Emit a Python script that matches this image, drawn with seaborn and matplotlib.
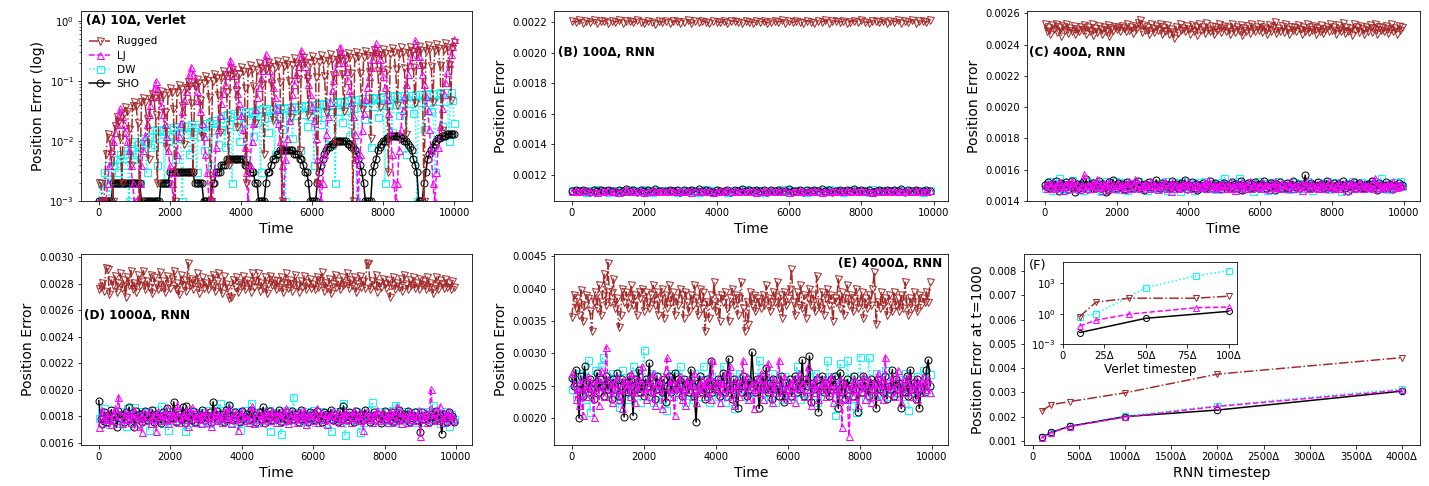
import numpy as np
import matplotlib
matplotlib.use("Agg")
import matplotlib.pyplot as plt
from matplotlib.ticker import FuncFormatter
import seaborn as sns

# ---------------- data ----------------
# (A) 10Δ Verlet, error in units of 1e-3, one value every 50 time units
a_rugged = [2, 2, 1, 1, 6, 13, 11, 6, 1, 18, 25, 21, 11, 2, 29, 36, 31, 16, 4, 38,
            45, 38, 20, 1, 44, 52, 44, 23, 5, 50, 60, 51, 27, 2, 55, 67, 57, 30, 8, 62,
            75, 64, 34, 1, 66, 85, 72, 38, 9, 76, 95, 81, 43, 3, 83, 107, 91, 48, 12, 92,
            120, 102, 54, 1, 101, 132, 112, 59, 14, 110, 145, 123, 65, 4, 120, 158, 134, 71, 17, 130,
            170, 145, 77, 2, 140, 182, 155, 82, 20, 150, 195, 166, 88, 6, 160, 205, 174, 92, 22, 168,
            215, 183, 97, 1, 176, 225, 191, 101, 25, 184, 235, 200, 106, 7, 192, 245, 208, 110, 27, 200,
            255, 217, 115, 2, 208, 265, 225, 119, 30, 216, 275, 234, 124, 9, 224, 285, 242, 128, 32, 232,
            295, 251, 133, 1, 240, 305, 259, 137, 34, 248, 315, 268, 142, 11, 257, 328, 279, 148, 37, 266,
            340, 289, 153, 3, 275, 350, 298, 158, 39, 284, 360, 306, 162, 13, 293, 372, 316, 167, 42, 302,
            385, 327, 173, 1, 312, 397, 337, 179, 44, 322, 410, 349, 185, 15, 333, 425, 361, 191, 48, 345,
            440]
a_lj = [1, 1, 1, 1, 1, 2, 4, 7, 10, 14, 19, 26, 35,
        26, 19, 14, 10, 7, 4, 2, 1, 1, 1, 2, 4, 7, 12, 19, 28, 40, 55, 75, 100,
        75, 55, 40, 28, 19, 12, 7, 4, 2, 1, 3, 6, 12, 20, 32, 48, 68, 94, 128, 170,
        128, 94, 68, 48, 32, 20, 12, 6, 3, 1, 1, 1, 3, 8, 16, 27, 43, 63, 90, 124, 169, 225,
        169, 124, 90, 63, 43, 27, 16, 8, 3, 1, 4, 10, 20, 34, 53, 78, 112, 154, 210, 280,
        210, 154, 112, 78, 53, 34, 20, 10, 4, 1, 5, 11, 22, 38, 61, 90, 128, 176, 240, 320,
        240, 176, 128, 90, 61, 38, 22, 11, 5, 2, 1, 2, 6, 13, 26, 44, 70, 104, 148, 204, 278, 370,
        278, 204, 148, 104, 70, 44, 26, 13, 5, 1, 6, 15, 29, 50, 80, 118, 168, 231, 315, 420,
        315, 231, 168, 118, 80, 50, 29, 15, 6, 2, 1, 2, 7, 16, 33, 56, 89, 132, 188, 259, 353, 470,
        353, 259, 188, 132, 89, 56, 33, 16, 7, 2, 1, 3, 8, 18, 35, 60, 95, 140, 200, 275, 375, 500]
a_dw = [1, 2, 1, 3, 2, 4, 1, 3, 4, 2, 5, 3, 6, 2, 6, 4, 7, 1, 7, 5,
        10, 6, 9, 2, 11, 7, 10, 3, 12, 8, 15, 9, 16, 4, 16, 11, 15, 2, 17, 10,
        17, 12, 16, 5, 18, 11, 17, 1, 18, 13, 18, 6, 19, 13, 17, 3, 19, 12, 18, 7,
        20, 14, 21, 4, 22, 15, 20, 9, 24, 16, 27, 8, 28, 19, 26, 2, 29, 18, 27, 10,
        30, 20, 31, 5, 32, 22, 30, 12, 33, 21, 34, 3, 35, 24, 33, 14, 35, 25, 34, 6,
        35, 26, 36, 16, 35, 1, 37, 25, 36, 11, 38, 27, 37, 7, 39, 28, 38, 18, 40, 26,
        40, 4, 41, 29, 42, 19, 41, 30, 43, 9, 44, 31, 45, 2, 46, 32, 45, 21, 47, 33,
        48, 12, 49, 35, 50, 1, 49, 36, 51, 23, 51, 37, 52, 8, 53, 38, 52, 25, 54, 39,
        55, 2, 56, 40, 55, 14, 57, 41, 56, 27, 57, 42, 58, 6, 59, 43, 58, 29, 60, 1,
        60, 44, 61, 16, 62, 45, 61, 31, 63, 3, 63, 46, 64, 18, 65, 47, 64, 10, 65, 48,
        20]
a_sho = [1, 1, 1, 1, 1, 1, 1, 1, 2, 2, 2, 2, 2, 2, 2, 2, 2, 2, 2, 2, 2, 2, 2, 2, 1, 1, 1, 1, 1, 1, 1,
         1, 1, 1, 1, 2, 2, 2, 2, 2, 3, 3, 3, 3, 3, 3, 3, 3, 3, 3, 3, 3, 3, 3, 2, 2, 2, 2, 2, 1, 1, 1,
         1, 1, 2, 2, 3, 3, 3, 4, 4, 4, 5, 5, 5, 5, 5, 5, 5, 5, 5, 5, 4, 4, 4, 3, 3, 3, 2, 2, 1, 1,
         1, 1, 2, 3, 3, 4, 5, 5, 6, 6, 7, 7, 7, 7, 7, 7, 7, 7, 6, 6, 6, 5, 5, 4, 3, 3, 2, 1, 1, 1,
         1, 2, 3, 4, 5, 6, 7, 8, 8, 9, 9, 10, 10, 10, 10, 10, 10, 10, 9, 9, 8, 8, 7, 6, 5, 4, 3, 2, 1, 1,
         1, 1, 3, 4, 5, 7, 8, 9, 10, 10, 11, 11, 12, 12, 12, 12, 12, 12, 11, 11, 10, 10, 9, 8, 7, 5, 4, 3, 1, 1,
         1, 2, 3, 5, 6, 7, 8, 9, 10, 11, 11, 12, 12, 12, 13, 13, 13, 13, 13]

# (B) 100Δ RNN, error in units of 1e-6, one value every 100 time units
b_rugged = [2205, 2198, 2210, 2193, 2207, 2201, 2214, 2196, 2203, 2209, 2190, 2206, 2199, 2212, 2195, 2204, 2208, 2197, 2211, 2200,
            2193, 2206, 2202, 2188, 2205, 2199, 2209, 2194, 2203, 2207, 2196, 2201, 2210, 2192, 2204, 2198, 2206, 2200, 2195, 2208,
            2202, 2197, 2205, 2191, 2203, 2209, 2199, 2194, 2206, 2201, 2196, 2204, 2198, 2207, 2193, 2202, 2205, 2199, 2210, 2195,
            2203, 2197, 2206, 2200, 2192, 2208, 2201, 2196, 2204, 2198, 2211, 2194, 2203, 2207, 2199, 2205, 2193, 2202, 2209, 2197,
            2213, 2200, 2195, 2206, 2203, 2198, 2208, 2192, 2204, 2201, 2210, 2196, 2205, 2199, 2212, 2194, 2203, 2207, 2198, 2215]
b_lj = [1095, 1101, 1092, 1099, 1104, 1093, 1098, 1090, 1102, 1096, 1100, 1094, 1103, 1091, 1097, 1105, 1093, 1099, 1095, 1101,
        1089, 1098, 1102, 1094, 1096, 1100, 1092, 1104, 1097, 1093, 1101, 1095, 1099, 1090, 1103, 1096, 1098, 1094, 1102, 1091,
        1097, 1100, 1093, 1105, 1096, 1099, 1092, 1101, 1095, 1098, 1103, 1090, 1097, 1100, 1094, 1102, 1096, 1093, 1099, 1104,
        1091, 1098, 1095, 1101, 1097, 1093, 1100, 1096, 1102, 1089, 1098, 1094, 1103, 1097, 1100, 1092, 1099, 1095, 1101, 1096,
        1104, 1093, 1098, 1091, 1100, 1097, 1095, 1102, 1094, 1099, 1096, 1101, 1093, 1098, 1103, 1095, 1100, 1092, 1097, 1099]
b_dw = [1100, 1094, 1104, 1097, 1091, 1102, 1096, 1106, 1093, 1099, 1089, 1101, 1095, 1103, 1098, 1092, 1105, 1096, 1100, 1094,
        1107, 1097, 1090, 1102, 1095, 1099, 1093, 1104, 1098, 1091, 1101, 1096, 1103, 1094, 1100, 1088, 1097, 1105, 1093, 1099,
        1102, 1095, 1098, 1091, 1104, 1096, 1100, 1094, 1106, 1092, 1099, 1097, 1103, 1090, 1101, 1095, 1098, 1093, 1105, 1097,
        1100, 1092, 1102, 1096, 1099, 1089, 1104, 1095, 1101, 1094, 1097, 1106, 1093, 1100, 1098, 1091, 1103, 1096, 1099, 1094,
        1101, 1097, 1090, 1105, 1095, 1102, 1093, 1099, 1096, 1104, 1092, 1100, 1098, 1094, 1103, 1096, 1101, 1089, 1097, 1100]
b_sho = [1098, 1103, 1093, 1100, 1096, 1086, 1101, 1095, 1104, 1092, 1099, 1097, 1090, 1102, 1096, 1106, 1094, 1099, 1091, 1103,
         1097, 1100, 1093, 1105, 1095, 1098, 1092, 1101, 1096, 1104, 1090, 1099, 1097, 1102, 1094, 1107, 1093, 1100, 1096, 1088,
         1101, 1098, 1095, 1103, 1091, 1099, 1097, 1105, 1094, 1100, 1092, 1102, 1096, 1099, 1089, 1104, 1095, 1101, 1097, 1093,
         1106, 1098, 1094, 1100, 1091, 1103, 1096, 1099, 1093, 1105, 1097, 1101, 1090, 1098, 1104, 1095, 1100, 1092, 1107, 1096,
         1099, 1094, 1102, 1088, 1098, 1101, 1095, 1103, 1093, 1100, 1097, 1105, 1091, 1099, 1096, 1102, 1094, 1098, 1100, 1097]

# (C)-(E) RNN runs, error in units of 1e-6, one value every 50 time units
c_rugged = [2530, 2490, 2515, 2470, 2525, 2500, 2535, 2480, 2510, 2455, 2520, 2495, 2530, 2475, 2505, 2490, 2520, 2465, 2500, 2485,
            2510, 2495, 2525, 2470, 2515, 2490, 2530, 2460, 2505, 2480, 2520, 2500, 2470, 2515, 2490, 2525, 2455, 2505, 2495, 2510,
            2500, 2515, 2490, 2520, 2505, 2485, 2530, 2495, 2510, 2475, 2520, 2500, 2540, 2560, 2480, 2525, 2495, 2510, 2470, 2530,
            2505, 2480, 2520, 2495, 2535, 2470, 2510, 2490, 2525, 2465, 2500, 2480, 2440, 2515, 2475, 2530, 2495, 2505, 2485, 2520,
            2500, 2470, 2525, 2490, 2515, 2460, 2530, 2495, 2510, 2475, 2540, 2500, 2485, 2520, 2465, 2510, 2495, 2530, 2480, 2505,
            2520, 2490, 2510, 2470, 2535, 2500, 2480, 2515, 2495, 2525, 2460, 2505, 2490, 2520, 2475, 2530, 2500, 2485, 2510, 2495,
            2530, 2480, 2515, 2500, 2465, 2525, 2490, 2510, 2545, 2475, 2505, 2490, 2520, 2480, 2535, 2500, 2470, 2515, 2495, 2510,
            2485, 2525, 2500, 2470, 2515, 2490, 2530, 2480, 2510, 2495, 2520, 2465, 2505, 2490, 2525, 2475, 2500, 2515, 2485, 2530,
            2495, 2510, 2470, 2525, 2500, 2485, 2540, 2475, 2515, 2490, 2505, 2460, 2530, 2495, 2510, 2480, 2520, 2500, 2470, 2515,
            2490, 2525, 2480, 2505, 2530, 2470, 2515, 2495, 2510, 2485, 2520, 2475, 2500, 2535, 2490, 2505, 2470, 2520, 2495, 2510]
c_lj = [1500, 1485, 1515, 1495, 1520, 1480, 1505, 1490, 1525, 1500, 1470, 1510, 1495, 1520, 1485, 1530, 1500, 1490, 1515, 1475,
        1505, 1495, 1575, 1485, 1510, 1500, 1480, 1515, 1495, 1540, 1490, 1505, 1470, 1515, 1500, 1485, 1525, 1495, 1510, 1480,
        1500, 1520, 1490, 1505, 1475, 1515, 1495, 1530, 1485, 1500, 1540, 1490, 1520, 1480, 1505, 1495, 1515, 1500, 1485, 1525,
        1490, 1510, 1500, 1475, 1515, 1495, 1505, 1530, 1485, 1500, 1465, 1520, 1495, 1510, 1480, 1505, 1490, 1515, 1500, 1485,
        1525, 1495, 1510, 1480, 1500, 1515, 1490, 1505, 1495, 1520, 1485, 1535, 1500, 1490, 1510, 1480, 1505, 1495, 1515, 1500,
        1480, 1510, 1495, 1525, 1485, 1505, 1470, 1515, 1500, 1490, 1520, 1480, 1510, 1495, 1530, 1485, 1500, 1515, 1490, 1505,
        1495, 1520, 1485, 1510, 1500, 1475, 1515, 1495, 1530, 1490, 1505, 1480, 1520, 1500, 1485, 1510, 1495, 1525, 1480, 1505,
        1500, 1490, 1515, 1470, 1510, 1495, 1525, 1485, 1500, 1515, 1490, 1505, 1480, 1520, 1495, 1510, 1485, 1500, 1525, 1490,
        1510, 1480, 1505, 1495, 1520, 1485, 1500, 1515, 1470, 1510, 1495, 1530, 1485, 1505, 1490, 1520, 1500, 1480, 1515, 1495,
        1505, 1490, 1520, 1485, 1545, 1500, 1490, 1510, 1480, 1505, 1495, 1515, 1500, 1485, 1525, 1490, 1510, 1495, 1505, 1500]
c_dw = [1480, 1510, 1495, 1525, 1470, 1505, 1490, 1515, 1545, 1485, 1500, 1520, 1475, 1510, 1495, 1535, 1490, 1505, 1480, 1515,
        1500, 1470, 1525, 1490, 1510, 1495, 1480, 1520, 1500, 1485, 1515, 1465, 1505, 1495, 1525, 1480, 1510, 1500, 1490, 1530,
        1475, 1505, 1495, 1520, 1485, 1510, 1470, 1500, 1515, 1490, 1505, 1480, 1525, 1495, 1510, 1485, 1500, 1470, 1520, 1490,
        1510, 1495, 1505, 1480, 1515, 1500, 1490, 1525, 1470, 1510, 1495, 1505, 1485, 1520, 1500, 1465, 1510, 1495, 1530, 1480,
        1505, 1490, 1515, 1470, 1500, 1520, 1485, 1510, 1495, 1525, 1480, 1505, 1490, 1515, 1500, 1475, 1510, 1495, 1520, 1485,
        1550, 1495, 1505, 1480, 1515, 1500, 1490, 1525, 1545, 1475, 1510, 1495, 1505, 1485, 1520, 1500, 1465, 1510, 1495, 1530,
        1480, 1505, 1490, 1515, 1470, 1500, 1520, 1485, 1510, 1495, 1525, 1480, 1505, 1490, 1515, 1500, 1475, 1510, 1495, 1520,
        1490, 1505, 1485, 1515, 1500, 1480, 1525, 1495, 1510, 1470, 1505, 1490, 1520, 1500, 1485, 1515, 1495, 1530, 1475, 1505,
        1500, 1485, 1520, 1495, 1510, 1465, 1505, 1490, 1515, 1500, 1480, 1525, 1495, 1510, 1485, 1500, 1520, 1490, 1505, 1480,
        1515, 1495, 1500, 1525, 1485, 1510, 1490, 1545, 1500, 1485, 1510, 1475, 1505, 1495, 1520, 1490, 1505, 1500, 1530, 1495]
c_sho = [1505, 1490, 1520, 1480, 1510, 1495, 1525, 1485, 1465, 1515, 1500, 1490, 1520, 1475, 1505, 1530, 1495, 1460, 1510, 1485,
         1500, 1520, 1490, 1540, 1475, 1505, 1495, 1515, 1485, 1500, 1525, 1480, 1510, 1495, 1455, 1470, 1520, 1490, 1535, 1500,
         1485, 1515, 1495, 1510, 1475, 1500, 1520, 1490, 1505, 1480, 1515, 1495, 1525, 1485, 1500, 1470, 1510, 1495, 1520, 1490,
         1505, 1480, 1535, 1500, 1485, 1515, 1495, 1510, 1490, 1505, 1480, 1525, 1495, 1510, 1485, 1500, 1515, 1490, 1535, 1475,
         1505, 1495, 1520, 1485, 1510, 1470, 1500, 1490, 1515, 1480, 1505, 1495, 1525, 1485, 1500, 1515, 1490, 1505, 1475, 1500,
         1515, 1490, 1505, 1480, 1520, 1495, 1510, 1485, 1500, 1525, 1470, 1505, 1495, 1515, 1480, 1510, 1490, 1520, 1500, 1485,
         1510, 1495, 1525, 1480, 1505, 1490, 1515, 1500, 1470, 1510, 1495, 1520, 1485, 1505, 1490, 1515, 1480, 1500, 1525, 1495,
         1490, 1510, 1480, 1505, 1495, 1565, 1500, 1485, 1515, 1490, 1505, 1480, 1520, 1495, 1510, 1485, 1500, 1530, 1490, 1505,
         1495, 1515, 1480, 1510, 1500, 1490, 1525, 1485, 1505, 1465, 1510, 1495, 1520, 1480, 1500, 1515, 1490, 1505, 1485, 1500,
         1510, 1490, 1525, 1485, 1500, 1470, 1515, 1495, 1505, 1480, 1520, 1490, 1510, 1500, 1475, 1505, 1495, 1515, 1490, 1500]

d_rugged = [2760, 2780, 2810, 2750, 2920, 2910, 2720, 2830, 2790, 2860, 2740, 2810, 2880, 2770, 2830, 2700, 2850, 2790, 2900, 2760,
            2810, 2740, 2870, 2790, 2830, 2900, 2760, 2820, 2780, 2870, 2730, 2850, 2800, 2760, 2890, 2780, 2820, 2740, 2860, 2800,
            2770, 2840, 2900, 2760, 2810, 2720, 2870, 2790, 2830, 2750, 2960, 2790, 2840, 2760, 2820, 2880, 2730, 2800, 2850, 2770,
            2810, 2760, 2840, 2790, 2870, 2750, 2820, 2880, 2780, 2730, 2860, 2800, 2770, 2690, 2700, 2830, 2780, 2850, 2740, 2810,
            2790, 2860, 2760, 2830, 2800, 2740, 2880, 2780, 2820, 2880, 2750, 2810, 2770, 2850, 2730, 2800, 2860, 2790, 2830, 2760,
            2820, 2780, 2850, 2740, 2810, 2880, 2770, 2830, 2750, 2800, 2870, 2790, 2740, 2820, 2780, 2860, 2760, 2810, 2840, 2770,
            2800, 2760, 2850, 2780, 2830, 2890, 2750, 2810, 2770, 2840, 2730, 2800, 2870, 2780, 2820, 2760, 2850, 2790, 2810, 2880,
            2770, 2830, 2790, 2850, 2740, 2800, 2860, 2780, 2820, 2770, 2950, 2960, 2760, 2820, 2790, 2870, 2740, 2810, 2780, 2840,
            2800, 2770, 2830, 2700, 2790, 2850, 2760, 2810, 2780, 2840, 2750, 2870, 2800, 2760, 2830, 2790, 2850, 2770, 2810, 2760,
            2840, 2790, 2820, 2760, 2850, 2780, 2810, 2730, 2790, 2850, 2760, 2830, 2800, 2770, 2840, 2780, 2810, 2760, 2820, 2780]
d_lj = [1720, 1800, 1850, 1780, 1760, 1830, 1790, 1740, 1810, 1860, 1770, 1950, 1820, 1750, 1790, 1840, 1780, 1820, 1760, 1800,
        1850, 1730, 1810, 1790, 1680, 1830, 1770, 1810, 1850, 1750, 1790, 1820, 1690, 1840, 1800, 1770, 1820, 1780, 1860, 1750,
        1810, 1790, 1840, 1770, 1890, 1800, 1760, 1820, 1780, 1850, 1730, 1810, 1870, 1790, 1760, 1830, 1800, 1750, 1820, 1780,
        1840, 1760, 1810, 1730, 1790, 1850, 1770, 1820, 1790, 1760, 1840, 1800, 1780, 1870, 1750, 1810, 1790, 1830, 1700, 1800,
        1850, 1770, 1810, 1790, 1760, 1820, 1880, 1750, 1800, 1830, 1780, 1810, 1760, 1840, 1790, 1820, 1770, 1850, 1800, 1760,
        1820, 1790, 1840, 1770, 1810, 1860, 1750, 1800, 1830, 1780, 1810, 1760, 1840, 1800, 1780, 1850, 1740, 1810, 1790, 1830,
        1770, 1810, 1860, 1760, 1800, 1830, 1780, 1820, 1740, 1810, 1790, 1850, 1770, 1800, 1830, 1760, 1810, 1780, 1840, 1790,
        1820, 1760, 1800, 1850, 1780, 1810, 1770, 1830, 1700, 1800, 1840, 1780, 1810, 1760, 1820, 1790, 1850, 1770, 1800, 1830,
        1780, 1810, 1760, 1840, 1790, 1820, 1770, 1880, 1800, 1750, 1830, 1790, 1810, 1760, 1840, 1780, 1820, 1770, 1800, 1850,
        1650, 1810, 1780, 1830, 1760, 1820, 2010, 1790, 1840, 1770, 1810, 1880, 1790, 1760, 1820, 1800, 1840, 1770, 1810, 1790]
d_dw = [1790, 1830, 1760, 1860, 1780, 1810, 1740, 1850, 1800, 1770, 1820, 1750, 1840, 1790, 1810, 1730, 1860, 1780, 1820, 1790,
        1870, 1750, 1810, 1790, 1840, 1770, 1800, 1830, 1700, 1820, 1780, 1850, 1760, 1810, 1790, 1880, 1750, 1820, 1800, 1700,
        1840, 1770, 1810, 1790, 1850, 1760, 1800, 1780, 1690, 1820, 1800, 1760, 1840, 1770, 1830, 1790, 1810, 1760, 1830, 1800,
        1780, 1850, 1750, 1810, 1790, 1860, 1820, 1780, 1900, 1810, 1770, 1830, 1790, 1880, 1760, 1810, 1800, 1840, 1770, 1700,
        1820, 1790, 1850, 1760, 1810, 1900, 1780, 1830, 1790, 1760, 1840, 1800, 1770, 1820, 1790, 1850, 1690, 1810, 1780, 1830,
        1800, 1760, 1670, 1820, 1790, 1850, 1770, 1810, 1800, 1950, 1780, 1830, 1760, 1810, 1790, 1840, 1770, 1800, 1820, 1780,
        1850, 1760, 1810, 1790, 1840, 1780, 1810, 1750, 1830, 1800, 1690, 1820, 1780, 1840, 1790, 1810, 1770, 1900, 1660, 1810,
        1780, 1830, 1800, 1770, 1840, 1790, 1680, 1820, 1760, 1810, 1850, 1780, 1800, 1910, 1770, 1820, 1790, 1840, 1760, 1810,
        1790, 1830, 1770, 1800, 1850, 1760, 1890, 1780, 1820, 1790, 1750, 1840, 1800, 1770, 1830, 1790, 1810, 1760, 1840, 1780,
        1820, 1790, 1760, 1810, 1840, 1780, 1800, 1890, 1770, 1820, 1790, 1750, 1810, 1800, 1840, 1770, 1730, 1820, 1790, 1780]
d_sho = [1920, 1780, 1740, 1830, 1760, 1810, 1790, 1850, 1770, 1800, 1720, 1840, 1790, 1810, 1760, 1830, 1780, 1870, 1750, 1800,
         1720, 1840, 1780, 1820, 1760, 1800, 1840, 1770, 1810, 1790, 1850, 1760, 1820, 1780, 1800, 1750, 1830, 1790, 1860, 1770,
         1810, 1790, 1910, 1760, 1800, 1820, 1780, 1870, 1750, 1880, 1790, 1810, 1770, 1840, 1760, 1800, 1820, 1780, 1850, 1770,
         1810, 1790, 1830, 1760, 1910, 1800, 1840, 1780, 1820, 1790, 1760, 1850, 1780, 1890, 1800, 1770, 1830, 1790, 1810, 1760,
         1840, 1780, 1800, 1820, 1770, 1850, 1790, 1810, 1760, 1800, 1830, 1780, 1870, 1750, 1810, 1790, 1840, 1770, 1800, 1820,
         1780, 1850, 1760, 1810, 1790, 1830, 1770, 1800, 1840, 1780, 1820, 1790, 1760, 1850, 1780, 1810, 1800, 1760, 1830, 1790,
         1810, 1770, 1840, 1790, 1800, 1760, 1830, 1780, 1820, 1800, 1850, 1770, 1810, 1790, 1760, 1840, 1780, 1880, 1800, 1770,
         1830, 1790, 1810, 1760, 1840, 1780, 1800, 1820, 1770, 1850, 1790, 1810, 1760, 1800, 1830, 1780, 1820, 1790, 1750, 1810,
         1840, 1780, 1800, 1770, 1830, 1760, 1810, 1790, 1850, 1770, 1800, 1820, 1780, 1840, 1760, 1810, 1790, 1830, 1770, 1800,
         1680, 1830, 1780, 1810, 1790, 1760, 1820, 1800, 1770, 1840, 1790, 1810, 1670, 1820, 1790, 1760, 1830, 1780, 1800, 1760]

e_rugged = [3560, 3900, 3700, 3850, 3600, 3980, 3500, 3750, 3900, 3850, 3650, 3350, 3800, 3950, 3700, 4050, 3600, 3900, 4220, 3750,
            4400, 3800, 3950, 4150, 3700, 3850, 3400, 3600, 4000, 3800, 3950, 3700, 3850, 4050, 3750, 3900, 3600, 3950, 3850, 4000,
            3650, 3950, 3800, 3700, 3900, 4050, 3750, 3950, 3600, 3850, 4000, 3550, 3900, 3700, 4050, 3800, 3950, 3600, 3850, 3750,
            4000, 3900, 3550, 3950, 3800, 3650, 3900, 3750, 4050, 3850, 3600, 4000, 3700, 3950, 3350, 3800, 3550, 3900, 3750, 4100,
            3650, 3850, 3500, 3900, 3800, 3950, 3700, 3500, 3850, 4000, 3750, 3900, 3600, 3850, 4100, 3700, 3350, 3800, 3450, 3950,
            3750, 3900, 3650, 3850, 3800, 3700, 3900, 3750, 4050, 3850, 3650, 3800, 3950, 3800, 4100, 3700, 3900, 3550, 3950, 3750,
            3850, 4000, 4300, 3800, 3600, 3950, 3750, 4050, 3700, 3900, 3550, 3850, 4000, 3750, 3900, 3650, 4200, 3800, 3700, 3950,
            3600, 3850, 4000, 3750, 3900, 3500, 3850, 3800, 4150, 3700, 3950, 3600, 3850, 4050, 3750, 3900, 3650, 3850, 4000, 3700,
            3800, 3950, 3550, 3850, 3700, 3900, 3750, 4000, 4250, 3450, 3800, 3700, 3950, 3750, 3850, 3600, 3900, 3800, 3650, 3950,
            3750, 3850, 3650, 3900, 3700, 4100, 3800, 3600, 3850, 3700, 3950, 3800, 3650, 3900, 3750, 3850, 3800, 3950, 3800, 4100]
e_lj = [2700, 2550, 2300, 2450, 2200, 2600, 2050, 2500, 2350, 2650, 2400, 2550, 2020, 2450, 2600, 2200, 2750, 2500, 2350, 3100,
        2600, 2450, 2250, 2550, 2400, 2650, 2300, 2500, 2150, 2600, 2450, 2550, 2350, 2700, 2500, 2250, 2600, 2400, 2550, 2800,
        2450, 2300, 2600, 2500, 2350, 2700, 2200, 2550, 2450, 2600, 2150, 2500, 2750, 2950, 2350, 2600, 2450, 2050, 2550, 2400,
        2650, 2300, 2500, 2200, 2600, 2450, 2550, 2350, 2700, 2250, 2500, 2400, 2600, 2450, 2550, 2350, 2650, 2300, 2900, 2500,
        2450, 2600, 2250, 2550, 2400, 2700, 2350, 2500, 2800, 2450, 2200, 2600, 2500, 2350, 2550, 2900, 2400, 2650, 2300, 2500,
        2550, 2150, 2450, 2600, 2400, 2700, 2300, 2550, 2450, 2850, 2500, 2250, 2600, 2400, 2550, 2900, 2350, 2500, 2650, 2450,
        2300, 2550, 2400, 2600, 2250, 2500, 2700, 2450, 2550, 2350, 2600, 2800, 2450, 2200, 2550, 2400, 2650, 2300, 2500, 2450,
        2600, 2350, 2550, 2400, 2650, 2250, 2500, 2450, 2300, 2600, 1870, 2450, 2550, 2300, 1720, 2500, 2350, 2600, 2450, 2200,
        2550, 2400, 2650, 2300, 2500, 2600, 2250, 2450, 2550, 2350, 2700, 2450, 2600, 2300, 2950, 2500, 2400, 2550, 2650, 2350,
        2500, 2750, 2450, 2250, 2600, 2400, 2550, 2650, 2350, 2500, 2450, 2600, 2300, 2550, 2400, 2650, 2500, 2450, 2600, 2400]
e_dw = [2450, 2600, 2350, 2550, 2700, 2400, 2650, 2300, 2500, 2900, 2100, 2550, 2450, 2750, 2400, 2600, 2800, 2950, 2500, 2650,
        2550, 2400, 2700, 2450, 2600, 2350, 2170, 2550, 2750, 2400, 2500, 2300, 2600, 2450, 2800, 2550, 2400, 2650, 2250, 2500,
        3060, 2450, 2600, 2350, 2700, 2250, 2500, 2400, 2550, 2650, 2300, 2500, 2120, 2600, 2450, 2700, 2350, 2550, 2400, 2650,
        2800, 2450, 2500, 2250, 2600, 2400, 2550, 2300, 2700, 2450, 2500, 2350, 2600, 2800, 2450, 2550, 2250, 2650, 2400, 2500,
        2600, 2350, 2550, 2450, 2800, 2250, 2500, 2650, 2400, 2550, 2150, 2600, 2450, 2700, 2350, 2500, 2600, 2400, 2550, 2300,
        2500, 2650, 2400, 2550, 2900, 2450, 2300, 2600, 2500, 2350, 2550, 2700, 2450, 2250, 2600, 2400, 2550, 2300, 2650, 2500,
        2450, 2600, 2350, 2550, 2400, 2800, 2500, 2300, 2600, 2450, 2550, 2350, 2650, 2500, 2400, 2700, 2250, 2550, 2450, 2600,
        2350, 2550, 2900, 2400, 2650, 2500, 2050, 2600, 2450, 2850, 2300, 2550, 2400, 2900, 2500, 2200, 2650, 2450, 2100, 2550,
        2950, 2400, 2600, 2300, 2500, 2940, 2450, 2550, 2350, 2700, 2500, 2400, 2600, 2300, 2750, 2450, 2550, 2350, 2650, 2500,
        2400, 2600, 2450, 2550, 2350, 2700, 2500, 2130, 2600, 2450, 2550, 2350, 2650, 2400, 2500, 2750, 2450, 2550, 2400, 2680]
e_sho = [2620, 2500, 2750, 2450, 2000, 2650, 2350, 2800, 2550, 2400, 2600, 2450, 2300, 2550, 2700, 2400, 2600, 2500, 2350, 2650,
         2450, 2550, 2300, 2600, 2450, 2700, 2350, 2500, 2600, 2020, 2550, 2400, 2650, 2500, 2040, 2600, 2450, 2750, 2400, 2550,
         2350, 2600, 2500, 2850, 2400, 2550, 2300, 2650, 2450, 2550, 2400, 2600, 2250, 2500, 2650, 2400, 2550, 2700, 2450, 2600,
         2500, 2350, 2600, 2450, 2550, 2400, 2750, 2500, 2350, 1940, 2550, 2650, 2400, 2500, 2300, 2600, 2450, 2880, 2400, 2550,
         2450, 2600, 2350, 2550, 2700, 2400, 2500, 2920, 2450, 2300, 2600, 2500, 2150, 2550, 2400, 2650, 2500, 2350, 2600, 2450,
         3020, 2550, 2400, 2600, 2150, 2500, 2650, 2450, 2780, 2400, 2550, 2300, 2600, 2450, 2500, 2350, 2650, 2450, 2250, 2550,
         2450, 2600, 2350, 2500, 2650, 2400, 2550, 2450, 2900, 2350, 2600, 2500, 2960, 2250, 2550, 2450, 2600, 2100, 2500, 2650,
         2400, 2550, 2450, 2350, 2600, 2500, 2650, 2450, 2150, 2700, 2400, 2550, 2300, 2600, 2450, 2500, 2350, 2650, 2450, 2100,
         2550, 2400, 2650, 2500, 2450, 2350, 2600, 2450, 2550, 2150, 2600, 2450, 2550, 2400, 2650, 2300, 2500, 2450, 2750, 2350,
         2600, 2450, 2550, 2150, 2500, 2400, 2650, 2350, 2750, 2450, 2550, 2300, 2600, 2150, 2450, 2550, 2400, 2750, 2900, 2500]

# (F) error at t=1000 vs RNN timestep
f_rnn_steps = [100, 200, 400, 1000, 2000, 4000]
f_rugged = [0.00224, 0.00249, 0.00262, 0.00298, 0.00375, 0.00443]
f_lj = [0.00113, 0.00134, 0.00159, 0.00198, 0.00242, 0.00309]
f_dw = [0.00114, 0.00134, 0.00160, 0.00203, 0.00245, 0.00315]
f_sho = [0.00114, 0.00135, 0.00160, 0.00200, 0.00227, 0.00305]

# (F inset) Verlet error vs Verlet timestep
inset_steps_rugged = [10, 20, 40, 80, 100]
inset_rugged = [0.5, 14, 34, 34, 54]
inset_steps_lj = [10, 20, 40, 80, 100]
inset_lj = [0.06, 0.23, 0.9, 3.9, 4.5]
inset_steps_dw = [10, 20, 50, 80, 100]
inset_dw = [0.5, 1.0, 360, 5500, 18000]
inset_steps_sho = [10, 50, 100]
inset_sho = [0.0135, 0.35, 1.7]

# ---------------- style ----------------
STYLE = {
    "Rugged": dict(color="brown", marker="v", linestyle="-."),
    "LJ": dict(color="magenta", marker="^", linestyle="--"),
    "DW": dict(color="cyan", marker="s", linestyle=":"),
    "SHO": dict(color="black", marker="o", linestyle="-"),
}
LEGEND_ORDER = ["Rugged", "LJ", "DW", "SHO"]
DRAW_ORDER = ["DW", "SHO", "LJ", "Rugged"]

sns.set_style("ticks")
plt.rcParams.update({
    "axes.edgecolor": "black", "text.color": "black", "axes.labelcolor": "black",
    "xtick.color": "black", "ytick.color": "black",
    "xtick.labelsize": 10, "ytick.labelsize": 10,
})

W, H = 1429, 486
fig = plt.figure(figsize=(W / 72, H / 72), dpi=72)


def px_axes(x0, y0, x1, y1):
    return fig.add_axes([x0 / W, 1 - y1 / H, (x1 - x0) / W, (y1 - y0) / H])


def draw(ax, x, y, name, ms=7, lw=1.5):
    st = STYLE[name]
    sns.lineplot(x=x, y=y, ax=ax, color=st["color"], marker=st["marker"],
                 linestyle=st["linestyle"], markerfacecolor="none",
                 markeredgecolor=st["color"], markeredgewidth=1.0,
                 markersize=ms, linewidth=lw, legend=False, errorbar=None)
    return ax.lines[-1]


def time_panel(ax, series, step, unit):
    handles = {}
    for name in DRAW_ORDER:
        vals = np.asarray(series[name], dtype=float) * unit
        t = np.arange(len(vals)) * step
        handles[name] = draw(ax, t, vals, name)
    ax.set_xlabel("Time", fontsize=14)
    ax.set_ylabel("Position Error", fontsize=14)
    return handles


def panel_label(ax, text, x, y, ha="left", va="center"):
    ax.text(x, y, text, transform=ax.transAxes, ha=ha, va=va,
            fontsize=12, fontweight="bold")


# (A)
axA = px_axes(81, 11, 472, 201)
hA = time_panel(axA, {"Rugged": a_rugged, "LJ": a_lj, "DW": a_dw, "SHO": a_sho}, 50, 1e-3)
axA.set_yscale("log")
axA.set_ylim(1e-3, 1.45)
axA.set_ylabel("Position Error (log)", fontsize=14)
panel_label(axA, "(A) 10Δ, Verlet", 0.012, 0.985, va="top")
axA.legend([hA[n] for n in LEGEND_ORDER], LEGEND_ORDER, loc="upper left",
           bbox_to_anchor=(0.005, 0.9), frameon=False, fontsize=10.5,
           labelspacing=0.4, handletextpad=0.6, borderaxespad=0.2)

# (B)
axB = px_axes(554, 11, 948, 201)
time_panel(axB, {"Rugged": b_rugged, "LJ": b_lj, "DW": b_dw, "SHO": b_sho}, 100, 1e-6)
panel_label(axB, "(B) 100Δ, RNN", 0.01, 0.784)

# (C)
axC = px_axes(1027, 11, 1420, 201)
time_panel(axC, {"Rugged": c_rugged, "LJ": c_lj, "DW": c_dw, "SHO": c_sho}, 50, 1e-6)
panel_label(axC, "(C) 400Δ, RNN", 0.005, 0.779)

# (D)
axD = px_axes(81, 254, 472, 445)
time_panel(axD, {"Rugged": d_rugged, "LJ": d_lj, "DW": d_dw, "SHO": d_sho}, 50, 1e-6)
panel_label(axD, "(D) 1000Δ, RNN", 0.008, 0.68)

# (E)
axE = px_axes(554, 254, 948, 445)
time_panel(axE, {"Rugged": e_rugged, "LJ": e_lj, "DW": e_dw, "SHO": e_sho}, 50, 1e-6)
panel_label(axE, "(E) 4000Δ, RNN", 0.985, 0.948, ha="right")

# (F)
delta_fmt = FuncFormatter(lambda v, _: "0" if v == 0 else f"{int(round(v))}Δ")
axF = px_axes(1024, 254, 1420, 445)
f_series = {"Rugged": f_rugged, "LJ": f_lj, "DW": f_dw, "SHO": f_sho}
for name in DRAW_ORDER:
    draw(axF, f_rnn_steps, f_series[name], name, ms=6.5, lw=1.5)
axF.set_ylim(0.00083, 0.0087)
axF.set_xticks(np.arange(0, 4001, 500))
axF.xaxis.set_major_formatter(delta_fmt)
axF.set_xlabel("RNN timestep", fontsize=14)
axF.set_ylabel("Position Error at t=1000", fontsize=14)
axF.text(0.012, 0.975, "(F)", transform=axF.transAxes, ha="left", va="top", fontsize=13)

axI = px_axes(1063, 262, 1237, 344)
inset = {
    "Rugged": (inset_steps_rugged, inset_rugged),
    "LJ": (inset_steps_lj, inset_lj),
    "DW": (inset_steps_dw, inset_dw),
    "SHO": (inset_steps_sho, inset_sho),
}
for name in DRAW_ORDER:
    xs, ys = inset[name]
    draw(axI, xs, ys, name, ms=6, lw=1.5)
axI.set_yscale("log")
axI.set_ylim(1e-3, 1.3e5)
axI.set_yticks([1e-3, 1e0, 1e3])
axI.set_xlim(0, 105)
axI.set_xticks([0, 25, 50, 75, 100])
axI.xaxis.set_major_formatter(delta_fmt)
axI.set_xlabel("Verlet timestep", fontsize=12, labelpad=2)
axI.tick_params(labelsize=10)

fig.savefig("out.png", dpi=72)
